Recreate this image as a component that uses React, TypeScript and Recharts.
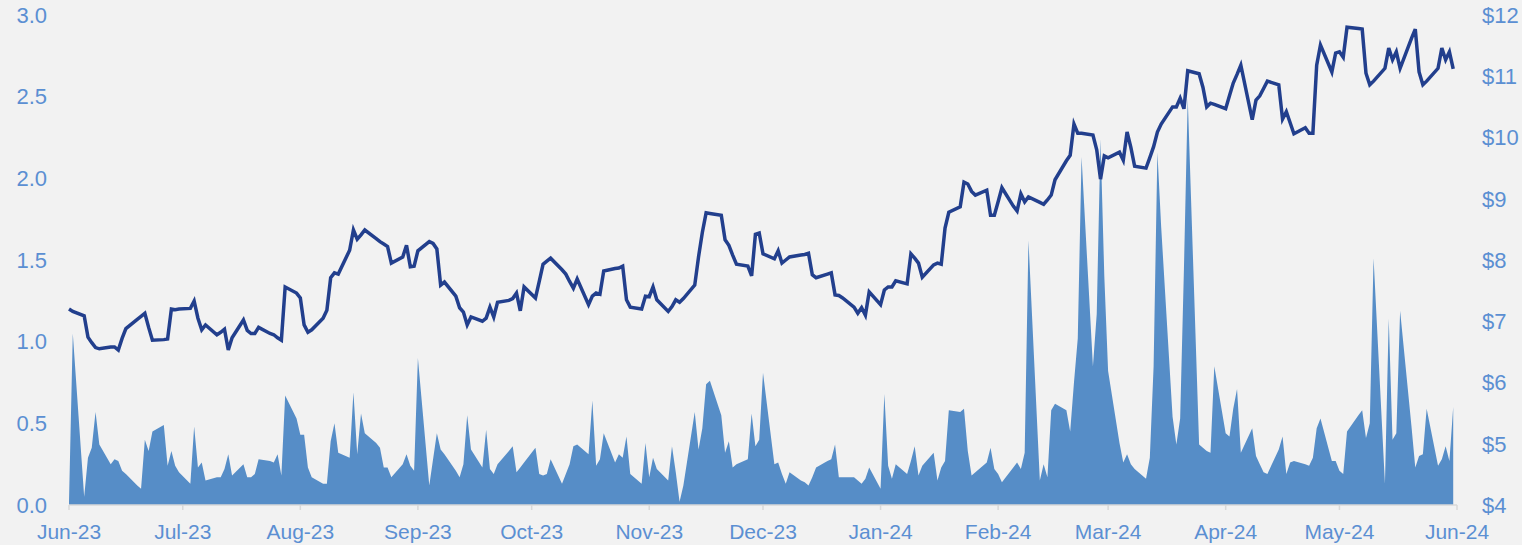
import React from 'react';
import { ComposedChart, Area, Line, XAxis, YAxis } from 'recharts';

// month start ticks, counted in days from 1 Jun 2023
const monthTicks = [0, 30, 61, 92, 122, 153, 183, 214, 245, 274, 305, 335, 366];
const monthLabels = ['Jun-23', 'Jul-23', 'Aug-23', 'Sep-23', 'Oct-23', 'Nov-23', 'Dec-23', 'Jan-24', 'Feb-24', 'Mar-24', 'Apr-24', 'May-24', 'Jun-24'];

const volumeTicks = [0, 0.5, 1, 1.5, 2, 2.5, 3];
const priceTicks = [4, 5, 6, 7, 8, 9, 10, 11, 12];

// share price ($), one value per weekday
const priceJun23 = [7.20, 7.16, 7.09, 6.74, 6.65, 6.57, 6.55, 6.58, 6.58, 6.53, 6.72, 6.88, 7.03, 7.08, 7.13, 6.90, 6.69, 6.70, 6.71, 7.20, 7.19, 7.20];
const priceJul23 = [7.21, 7.33, 7.05, 6.86, 6.94, 6.78, 6.82, 6.87, 6.53, 6.73, 7.02, 6.85, 6.80, 6.80, 6.90, 6.80, 6.78, 6.73, 6.69, 7.56, 7.46];
const priceAug23 = [7.38, 6.94, 6.82, 6.86, 7.05, 7.18, 7.71, 7.79, 7.77, 8.16, 8.49, 8.34, 8.41, 8.49, 8.35, 8.30, 8.26, 8.22, 7.95, 8.05, 8.24, 7.89, 7.90];
const priceSep23 = [8.15, 8.30, 8.27, 8.18, 7.59, 7.64, 7.41, 7.22, 7.15, 6.94, 7.07, 7.00, 7.05, 7.23, 7.07, 7.31, 7.34, 7.37, 7.46, 7.17, 7.56];
const priceOct23 = [7.38, 7.65, 7.93, 7.98, 8.03, 7.84, 7.77, 7.65, 7.54, 7.69, 7.27, 7.41, 7.46, 7.44, 7.82, 7.86, 7.87, 7.90, 7.35, 7.23, 7.20, 7.41];
const priceNov23 = [7.40, 7.56, 7.35, 7.16, 7.24, 7.35, 7.31, 7.37, 7.59, 8.05, 8.45, 8.77, 8.76, 8.73, 8.33, 8.24, 8.08, 7.93, 7.90, 7.74, 8.42, 8.44];
const priceDec23 = [8.10, 8.02, 8.15, 7.95, 8.00, 8.05, 8.08, 8.09, 8.11, 7.76, 7.71, 7.77, 7.79, 7.43, 7.42, 7.38, 7.23, 7.13, 7.22, 7.10, 7.48];
const priceJan24 = [7.27, 7.51, 7.56, 7.56, 7.66, 7.61, 8.10, 8.03, 7.95, 7.72, 7.92, 7.95, 7.93, 8.52, 8.78, 8.87, 9.27, 9.24, 9.12, 9.06, 9.14, 8.73, 8.73];
const priceFeb24 = [8.95, 9.18, 8.88, 8.80, 9.08, 8.95, 9.03, 8.94, 8.91, 8.98, 9.06, 9.31, 9.62, 9.71, 10.22, 10.07, 10.07, 10.04, 9.80, 9.32, 9.70];
const priceMar24 = [9.67, 9.76, 9.63, 10.09, 9.84, 9.53, 9.50, 9.67, 9.85, 10.09, 10.22, 10.50, 10.50, 10.64, 10.47, 11.09, 11.04, 10.82, 10.50, 10.56, 10.54];
const priceApr24 = [10.47, 10.68, 10.89, 11.03, 11.18, 10.29, 10.61, 10.68, 10.80, 10.92, 10.86, 10.30, 10.42, 10.24, 10.06, 10.16, 10.07, 10.07, 11.18, 11.51, 11.07, 11.38];
const priceMay24 = [11.40, 11.31, 11.80, 11.78, 11.77, 11.05, 10.86, 10.92, 11.13, 11.46, 11.27, 11.40, 11.13, 11.62, 11.77, 11.07, 10.86, 10.92, 11.13, 11.46, 11.27, 11.40, 11.12];

// traded volume (left axis), one value per weekday
const volJun23 = [0.02, 1.05, 0.05, 0.29, 0.35, 0.57, 0.37, 0.25, 0.28, 0.27, 0.21, 0.19, 0.12, 0.10, 0.40, 0.33, 0.45, 0.49, 0.24, 0.33, 0.24, 0.20];
const volJul23 = [0.13, 0.48, 0.23, 0.26, 0.15, 0.17, 0.17, 0.22, 0.31, 0.18, 0.25, 0.17, 0.17, 0.19, 0.28, 0.27, 0.26, 0.31, 0.18, 0.67, 0.53];
const volAug23 = [0.43, 0.43, 0.23, 0.17, 0.13, 0.13, 0.39, 0.50, 0.32, 0.29, 0.69, 0.31, 0.56, 0.44, 0.38, 0.35, 0.23, 0.23, 0.17, 0.25, 0.31, 0.24, 0.21];
const volSep23 = [0.90, 0.12, 0.28, 0.44, 0.34, 0.31, 0.21, 0.17, 0.25, 0.55, 0.34, 0.23, 0.46, 0.22, 0.19, 0.25, 0.33, 0.36, 0.20, 0.23, 0.26];
const volOct23 = [0.35, 0.19, 0.18, 0.19, 0.28, 0.13, 0.19, 0.25, 0.36, 0.37, 0.31, 0.64, 0.24, 0.28, 0.44, 0.26, 0.31, 0.29, 0.42, 0.19, 0.13, 0.38];
const volNov23 = [0.17, 0.29, 0.22, 0.15, 0.36, 0.20, 0.02, 0.12, 0.57, 0.34, 0.47, 0.74, 0.76, 0.55, 0.32, 0.39, 0.23, 0.25, 0.28, 0.56, 0.36, 0.40];
const volDec23 = [0.81, 0.25, 0.26, 0.19, 0.13, 0.20, 0.15, 0.14, 0.12, 0.17, 0.23, 0.27, 0.28, 0.37, 0.17, 0.17, 0.17, 0.15, 0.13, 0.16, 0.23];
const volJan24 = [0.10, 0.68, 0.24, 0.16, 0.25, 0.19, 0.27, 0.36, 0.18, 0.24, 0.32, 0.15, 0.23, 0.27, 0.58, 0.57, 0.59, 0.33, 0.18, 0.20, 0.26, 0.35, 0.22];
const volFeb24 = [0.19, 0.14, 0.23, 0.26, 0.22, 0.32, 1.62, 0.15, 0.25, 0.17, 0.58, 0.62, 0.58, 0.45, 0.75, 1.02, 2.13, 0.85, 1.17, 2.24, 1.40];
const volMar24 = [0.82, 0.38, 0.26, 0.31, 0.25, 0.22, 0.16, 0.29, 0.85, 2.16, 1.70, 0.54, 0.37, 0.53, 1.45, 2.49, 0.37, 0.35, 0.33, 0.32, 0.85];
const volApr24 = [0.44, 0.42, 0.59, 0.71, 0.32, 0.47, 0.30, 0.25, 0.20, 0.19, 0.34, 0.42, 0.19, 0.26, 0.27, 0.25, 0.24, 0.29, 0.47, 0.53, 0.27, 0.27];
const volMay24 = [0.21, 0.19, 0.45, 0.55, 0.58, 0.41, 0.50, 1.51, 0.13, 1.14, 0.40, 0.44, 1.19, 0.48, 0.23, 0.30, 0.31, 0.59, 0.24, 0.28, 0.36, 0.27, 0.60];

const price = [
  ...priceJun23, ...priceJul23, ...priceAug23, ...priceSep23, ...priceOct23, ...priceNov23,
  ...priceDec23, ...priceJan24, ...priceFeb24, ...priceMar24, ...priceApr24, ...priceMay24,
];
const volume = [
  ...volJun23, ...volJul23, ...volAug23, ...volSep23, ...volOct23, ...volNov23,
  ...volDec23, ...volJan24, ...volFeb24, ...volMar24, ...volApr24, ...volMay24,
];

// weekdays from 1 Jun 2023 to 31 May 2024, as day offsets
const weekdays: number[] = [];
for (let d = 0; d < 366; d++) {
  const wd = new Date(Date.UTC(2023, 5, 1 + d)).getUTCDay();
  if (wd !== 0 && wd !== 6) weekdays.push(d);
}

const rows = weekdays.map((day, i) => ({ day, vol: volume[i], price: price[i] }));

const labelColor = '#5b8fd2';
const fontFamily = '"Liberation Sans", Arial, sans-serif';

export default function App() {
  return (
    <div style={{ width: 1522, height: 545, background: '#f2f2f2', fontFamily }}>
      <style>{'body{margin:0}'}</style>
      <ComposedChart
        width={1522}
        height={545}
        data={rows}
        margin={{ top: 15, right: 0, bottom: 0, left: 0 }}
      >
        <XAxis
          dataKey="day"
          type="number"
          domain={[0, 366]}
          ticks={monthTicks}
          tickFormatter={(v: number) => monthLabels[monthTicks.indexOf(v)] ?? ''}
          height={40}
          interval={0}
          axisLine={{ stroke: '#d9d9d9', strokeWidth: 1.5 }}
          tickLine={{ stroke: '#d9d9d9', strokeWidth: 1.5 }}
          tickSize={5}
          tickMargin={14}
          tick={{ fill: labelColor, fontSize: 21, fontFamily }}
        />
        <YAxis
          yAxisId="vol"
          orientation="left"
          domain={[0, 3]}
          ticks={volumeTicks}
          tickFormatter={(v: number) => v.toFixed(1)}
          width={69}
          axisLine={false}
          tickLine={false}
          tickSize={6}
          tickMargin={16}
          interval={0}
          tick={{ fill: labelColor, fontSize: 22, fontFamily }}
        />
        <YAxis
          yAxisId="px"
          orientation="right"
          domain={[4, 12]}
          ticks={priceTicks}
          tickFormatter={(v: number) => `$${v}`}
          width={65}
          axisLine={false}
          tickLine={false}
          tickSize={6}
          tickMargin={19}
          interval={0}
          tick={{ fill: labelColor, fontSize: 22, fontFamily }}
        />
        <Area
          yAxisId="vol"
          type="linear"
          dataKey="vol"
          stroke="none"
          fill="#568dc7"
          fillOpacity={1}
          isAnimationActive={false}
        />
        <Line
          yAxisId="px"
          type="linear"
          dataKey="price"
          stroke="#223f8d"
          strokeWidth={3.5}
          dot={false}
          isAnimationActive={false}
        />
      </ComposedChart>
    </div>
  );
}
